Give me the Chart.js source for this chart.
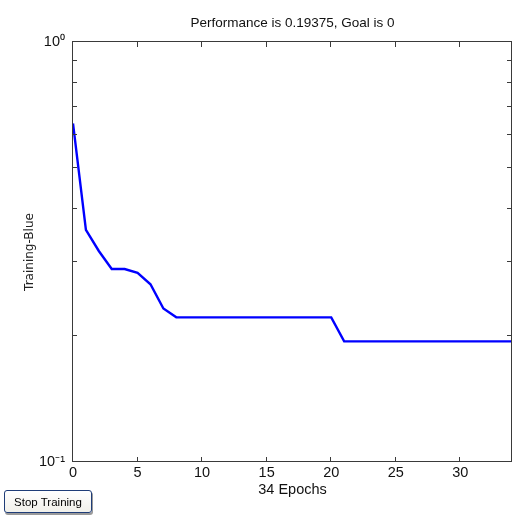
<!DOCTYPE html>
<html>
<head>
<meta charset="utf-8">
<title>Performance</title>
<script src="https://cdn.jsdelivr.net/npm/chart.js@4.4.1/dist/chart.umd.min.js"></script>
<style>
	html, body { margin: 0; padding: 0; background: #fff; }
	#wrap { position: relative; width: 515px; height: 518px; }
	#stop {
		position: absolute; left: 4px; top: 490px; width: 88px; height: 23px;
		padding: 0; border: 1px solid #1f3d78; border-radius: 3px;
		background: linear-gradient(#ffffff, #f1f0ea);
		box-shadow: 1px 2px 0 #9a9a9a;
		color: #000; font-size: 13px; cursor: default;
	}
</style>
</head>
<body>
<div id="wrap">
	<canvas id="perf"></canvas>
	<button id="stop" type="button">Stop Training</button>
</div>
<script>
	"use strict";

	// Data
	var epochs      = [0, 1, 2, 3, 4, 5, 6, 7, 8, 9, 10, 11, 12, 13, 14, 15, 16, 17,
	                   18, 19, 20, 21, 22, 23, 24, 25, 26, 27, 28, 29, 30, 31, 32, 33, 34];
	var performance = [0.640, 0.357, 0.318, 0.288, 0.288, 0.282, 0.265, 0.232, 0.221,
	                   0.221, 0.221, 0.221, 0.221, 0.221, 0.221, 0.221, 0.221, 0.221,
	                   0.221, 0.221, 0.221, 0.19375, 0.19375, 0.19375, 0.19375, 0.19375,
	                   0.19375, 0.19375, 0.19375, 0.19375, 0.19375, 0.19375, 0.19375, 0.19375, 0.19375];
	var xTickValues = [0, 5, 10, 15, 20, 25, 30];
	var yTickValues = [0.1, 1];
	var yTickLabels = ['10\u207B\u00B9', '10\u2070'];
	var yMinorTicks = [0.2, 0.3, 0.4, 0.5, 0.6, 0.7, 0.8, 0.9];

	// Narrow font if it is installed, else a regular one sized to the same widths
	function has_font( name ) {
		var c = document.createElement('canvas').getContext('2d');
		var s = 'Performance is 0.19375, Goal is 0';
		c.font = '40px monospace';
		var w0 = c.measureText(s).width;
		c.font = '40px "' + name + '", monospace';
		return c.measureText(s).width !== w0;
	}
	var narrow = has_font('Liberation Sans Narrow');
	var family = narrow ? '"Liberation Sans Narrow", "Liberation Sans", sans-serif' : '"Liberation Sans", Arial, sans-serif';
	var tsize  = narrow ? 16 : 13.5;		// title
	var fsize  = narrow ? 16 : 14.5;		// ticks and x title
	var tlh    = tsize * 1.2;
	var lh     = fsize * 1.2;
	document.getElementById('stop').style.fontFamily = family;
	document.getElementById('stop').style.fontSize = (narrow ? 13 : 11.5) + 'px';

	Chart.defaults.font.family = family;
	Chart.defaults.font.size = fsize;
	Chart.defaults.color = '#111';

	// Box round the plot with inward ticks, as in the original figure
	var frame_ticks = {
		id: 'frame_ticks',
		afterDraw: function( chart ) {
			var ctx = chart.ctx, a = chart.chartArea;
			var xs = chart.scales.x, ys = chart.scales.y;
			ctx.save();
			ctx.strokeStyle = '#3a3a3a';
			ctx.lineWidth = 1;
			ctx.strokeRect( a.left - 0.5, a.top - 0.5, a.right - a.left, a.bottom - a.top );
			ctx.beginPath();
			xTickValues.forEach( function( v ) {
				var px = Math.round( xs.getPixelForValue( v ) ) - 0.5;
				ctx.moveTo( px, a.bottom ); ctx.lineTo( px, a.bottom - 5 );
				ctx.moveTo( px, a.top );    ctx.lineTo( px, a.top + 5 );
			} );
			yMinorTicks.forEach( function( v ) {
				var py = Math.round( ys.getPixelForValue( v ) ) - 0.5;
				ctx.moveTo( a.left, py );      ctx.lineTo( a.left + 4, py );
				ctx.moveTo( a.right - 1, py ); ctx.lineTo( a.right - 5, py );
			} );
			ctx.stroke();
			ctx.restore();
		}
	};

	var canvas = document.getElementById('perf');
	canvas.width = 515;
	canvas.height = 518;

	new Chart( canvas, {
		type: 'line',
		data: {
			datasets: [ {
				label: 'Training',
				data: epochs.map( function( e, i ) { return { x: e, y: performance[i] }; } ),
				borderColor: '#0000ff',
				backgroundColor: '#0000ff',
				borderWidth: 2.4,
				pointRadius: 0,
				tension: 0,
				fill: false
			} ]
		},
		options: {
			responsive: false,
			animation: false,
			layout: { padding: { left: 0, right: 3, top: 0, bottom: 0 } },
			plugins: {
				legend: { display: false },
				tooltip: { enabled: false },
				title: {
					display: true,
					fullSize: false,
					text: 'Performance is 0.19375, Goal is 0',
					color: '#111',
					font: { size: tsize, weight: 'normal' },
					padding: { top: 23.5 - tlh / 2, bottom: 42 - tlh - ( 23.5 - tlh / 2 ) }
				}
			},
			scales: {
				x: {
					type: 'linear',
					min: 0,
					max: 34,
					grid: { display: false, drawTicks: false },
					border: { display: false },
					ticks: { padding: 10.5 - lh / 2, maxRotation: 0, autoSkip: false },
					afterBuildTicks: function( s ) {
						s.ticks = xTickValues.map( function( v ) { return { value: v }; } );
					},
					afterFit: function( s ) { s.height = 56; },
					title: {
						display: true,
						text: '34 Epochs',
						color: '#111',
						padding: { top: 0, bottom: 518 - 489.5 - lh / 2 }
					}
				},
				y: {
					type: 'logarithmic',
					min: 0.1,
					max: 1,
					grid: { display: false, drawTicks: false },
					border: { display: false },
					ticks: {
						padding: 8,
						autoSkip: false,
						callback: function( v ) {
							var i = yTickValues.indexOf( v );
							return i >= 0 ? yTickLabels[i] : '';
						}
					},
					afterBuildTicks: function( s ) {
						s.ticks = yTickValues.map( function( v ) { return { value: v }; } );
					},
					afterFit: function( s ) { s.width = 73; },
					title: {
						display: true,
						text: 'Training-Blue',
						color: '#222',
						font: { family: '"DejaVu Sans", sans-serif', size: 12 },
						padding: { top: 30.3 - 7.2, bottom: 0 }
					}
				}
			}
		},
		plugins: [ frame_ticks ]
	} );
</script>
</body>
</html>
